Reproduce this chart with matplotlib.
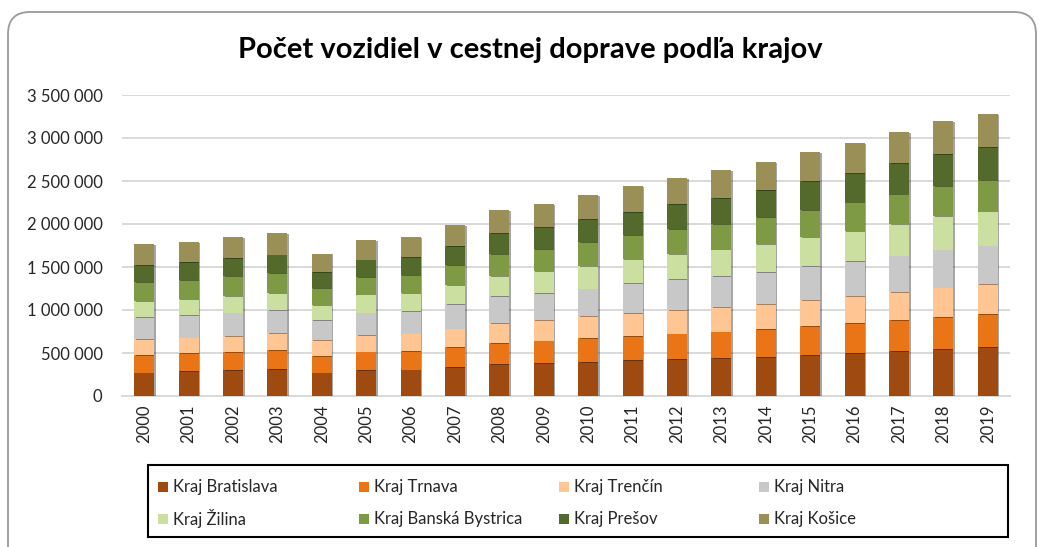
import matplotlib
matplotlib.use("Agg")
import matplotlib.pyplot as plt
import matplotlib.patheffects as pe
from matplotlib.patches import FancyBboxPatch, Rectangle
from matplotlib.ticker import FuncFormatter, MultipleLocator
from matplotlib.transforms import IdentityTransform
import numpy as np

plt.rcParams['font.family'] = ['Lato', 'DejaVu Sans']

# ---------------------------------------------------------------
# Data
# ---------------------------------------------------------------
years = [str(y) for y in range(2000, 2020)]

regions = ["Kraj Bratislava", "Kraj Trnava", "Kraj Trenčín", "Kraj Nitra",
           "Kraj Žilina", "Kraj Banská Bystrica", "Kraj Prešov", "Kraj Košice"]

bratislava = [273000, 285000, 297000, 312000, 273000, 301000, 308000, 334000, 369000, 381000,
              396000, 415000, 431000, 441000, 454000, 477000, 497000, 520000, 547000, 566000]
trnava = [207000, 211000, 215000, 219000, 192000, 215000, 215000, 237000, 248000, 264000,
          276000, 284000, 295000, 308000, 322000, 334000, 349000, 361000, 372000, 384000]
trencin = [184000, 184000, 187000, 196000, 183000, 191000, 202000, 213000, 233000, 240000,
           256000, 264000, 272000, 282000, 291000, 306000, 318000, 329000, 342000, 349000]
nitra = [254000, 257000, 270000, 273000, 235000, 262000, 260000, 280000, 307000, 311000,
         322000, 346000, 357000, 363000, 376000, 392000, 403000, 423000, 442000, 450000]
zilina = [187000, 192000, 195000, 195000, 179000, 211000, 207000, 225000, 241000, 256000,
          264000, 279000, 295000, 308000, 322000, 341000, 353000, 369000, 388000, 396000]
banska_bystrica = [219000, 219000, 227000, 231000, 196000, 203000, 212000, 229000, 252000, 260000,
                   272000, 280000, 288000, 299000, 314000, 315000, 330000, 341000, 349000, 361000]
presov = [203000, 210000, 210000, 218000, 187000, 203000, 208000, 225000, 245000, 253000,
          268000, 275000, 291000, 303000, 314000, 333000, 345000, 365000, 376000, 384000]
kosice = [235000, 235000, 243000, 247000, 211000, 223000, 234000, 249000, 264000, 268000,
          284000, 296000, 306000, 319000, 326000, 341000, 349000, 364000, 384000, 392000]

series = [bratislava, trnava, trencin, nitra, zilina, banska_bystrica, presov, kosice]
colors = ["#9E4A10", "#E97517", "#FFC593", "#C8C8C8",
          "#CBDFA0", "#7F9A44", "#546A2C", "#998F57"]

# ---------------------------------------------------------------
# Figure
# ---------------------------------------------------------------
W, H = 1039, 547
fig = plt.figure(figsize=(W / 100, H / 100), dpi=100)
fig.patch.set_facecolor("white")

# rounded chart frame (pixel coordinates)
frame = FancyBboxPatch((8, -40), 1028, 535 + 40, boxstyle="round,pad=0,rounding_size=22",
                       transform=IdentityTransform(), facecolor="none",
                       edgecolor="#9A9A9A", linewidth=1.3)
fig.add_artist(frame)

ax = fig.add_axes([122 / W, 1 - 396 / H, (1010 - 122) / W, (396 - 95) / H])
ax.set_facecolor("white")

x = np.arange(len(years))
bottom = np.zeros(len(years))
shadow = [pe.SimplePatchShadow(offset=(1.2, -0.6), shadow_rgbFace="black", alpha=0.35), pe.Normal()]
for vals, color, name in zip(series, colors, regions):
    vals = np.array(vals)
    ax.bar(x, vals, width=0.45, bottom=bottom, color=color, label=name,
           zorder=3, linewidth=0, path_effects=shadow)
    bottom += vals

ax.set_xlim(-0.5, len(years) - 0.5)
ax.set_ylim(0, 3500000)
ax.yaxis.set_major_locator(MultipleLocator(500000))
ax.yaxis.set_major_formatter(FuncFormatter(lambda v, p: f"{int(v):,}".replace(",", " ")))
ax.grid(True, axis="y", color="#D9D9D9", linewidth=1.4, zorder=0)
ax.set_axisbelow(True)
for s in ["top", "right", "left"]:
    ax.spines[s].set_visible(False)
ax.spines["bottom"].set_color("#D9D9D9")
ax.spines["bottom"].set_linewidth(1.4)
ax.set_xticks(x)
ax.set_xticklabels(years, rotation=90)
ax.tick_params(axis="both", length=0, labelsize=12, colors="#262626")
ax.tick_params(axis="y", pad=14)
ax.tick_params(axis="x", pad=6)

fig.text(530 / W, 1 - 50 / H, "Počet vozidiel v cestnej doprave podľa krajov",
         ha="center", va="center", fontsize=21, fontweight="bold", color="black")

# ---------------------------------------------------------------
# Legend (4 columns x 2 rows, boxed)
# ---------------------------------------------------------------
fig.add_artist(Rectangle((148, H - 537), 860, 72, transform=IdentityTransform(),
                         facecolor="white", edgecolor="black", linewidth=1.5))
col_x = [158, 359, 559, 759]
row_y = [487, 519]
for i, (name, color) in enumerate(zip(regions, colors)):
    cx = col_x[i % 4]
    cy = row_y[i // 4]
    fig.add_artist(Rectangle((cx, H - cy - 5), 10, 10, transform=IdentityTransform(),
                             facecolor=color, edgecolor="none"))
    fig.text((cx + 15) / W, 1 - cy / H, name, ha="left", va="center",
             fontsize=12, color="#262626")

fig.savefig("out.png", dpi=100)
